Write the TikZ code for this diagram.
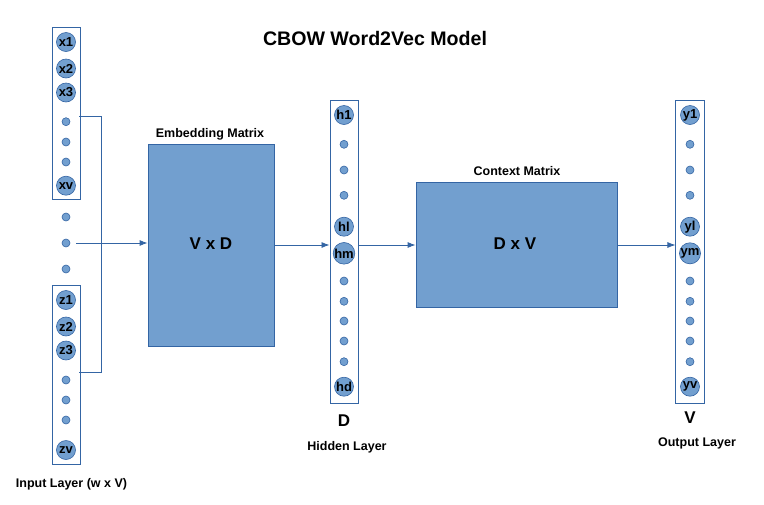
\documentclass[tikz,border=0pt]{standalone}
\usepackage{fontspec}
\setmainfont{Liberation Sans}
\usetikzlibrary{arrows.meta}
\definecolor{cfill}{HTML}{729FCF}
\definecolor{cline}{HTML}{3465A4}
\tikzset{
  big/.style={circle, fill=cfill, draw=cline, line width=0.6pt, minimum size=19pt, inner sep=0pt, font=\bfseries\fontsize{13}{13}\selectfont},
  dot/.style={circle, fill=cfill, draw=cline, line width=0.6pt, minimum size=8pt, inner sep=0pt},
  colbox/.style={draw=cline, fill=white, line width=0.8pt, minimum width=28.7pt, inner sep=0pt},
  mat/.style={draw=cline, fill=cfill, line width=0.8pt, inner sep=0pt},
  lbl/.style={font=\bfseries\fontsize{12.5}{13}\selectfont, inner sep=0pt},
  big lbl/.style={font=\bfseries\fontsize{17}{17}\selectfont, inner sep=0pt},
  conn/.style={draw=cline, line width=0.8pt},
  arr/.style={conn, -{Latex[length=8pt,width=6pt]}}
}
\begin{document}
\begin{tikzpicture}[x=1pt,y=-1pt]
\useasboundingbox (0,0) rectangle (764,504);
% title
\node[font=\bfseries\fontsize{19.6}{20}\selectfont, inner sep=0pt] (title) at (375,38) {CBOW Word2Vec Model};
% input boxes
\node[colbox, minimum height=171.7pt] (inA) at (66.4,113.2) {};
\node[colbox, minimum height=178.7pt] (inB) at (66.4,374.7) {};
\node[big] (x1) at (66,42) {x1};
\node[big] (x2) at (66,68.5) {x2};
\node[big] (x3) at (66,92.5) {x3};
\node[dot] (xa) at (66,121.7) {};
\node[dot] (xb) at (66,142) {};
\node[dot] (xc) at (66,162) {};
\node[big] (xv) at (66,185.7) {xv};
\node[dot] (ma) at (66,217) {};
\node[dot] (mb) at (66,243) {};
\node[dot] (mc) at (66,269) {};
\node[big] (z1) at (66,300) {z1};
\node[big] (z2) at (66,326.5) {z2};
\node[big] (z3) at (66,350.5) {z3};
\node[dot] (za) at (66,380) {};
\node[dot] (zb) at (66,400) {};
\node[dot] (zc) at (66,420) {};
\node[big] (zv) at (66,450) {zv};
\node[lbl] (inlbl) at (71.5,484) {Input Layer (w x V)};
% matrices
\node[mat, minimum width=126pt, minimum height=202pt] (emb) at (211,245) {};
\node[big lbl] (embt) at (211,244) {V x D};
\node[lbl] (emblbl) at (210,134) {Embedding Matrix};
\node[mat, minimum width=201pt, minimum height=125pt] (ctx) at (516.5,244.5) {};
\node[big lbl] (ctxt) at (515,244) {D x V};
\node[lbl] (ctxlbl) at (517,171) {Context Matrix};
% hidden layer
\node[colbox, minimum height=302.3pt] (hid) at (344.3,251.9) {};
\node[big] (h1) at (344,115) {h1};
\node[dot] (ha) at (344,144.3) {};
\node[dot] (hb) at (344,170) {};
\node[dot] (hc) at (344,195.3) {};
\node[big] (hl) at (344,226.7) {hl};
\node[big] (hm) at (344,253.3) {hm};
\node[dot] (hd1) at (344,281) {};
\node[dot] (hd2) at (344,301.3) {};
\node[dot] (hd3) at (344,321) {};
\node[dot] (hd4) at (344,341) {};
\node[dot] (hd5) at (344,361.7) {};
\node[big] (hd) at (344,386.7) {hd};
\node[big lbl] (D) at (344,421) {D};
\node[lbl] (hidlbl) at (347,447) {Hidden Layer};
% output layer
\node[colbox, minimum height=302.3pt] (out) at (690.2,251.9) {};
\node[big] (y1) at (690,115) {y1};
\node[dot] (ya) at (690,144.3) {};
\node[dot] (yb) at (690,170) {};
\node[dot] (yc) at (690,195.3) {};
\node[big] (yl) at (690,226.7) {yl};
\node[big] (ym) at (690,253.3) {ym};
\node[dot] (yd1) at (690,281) {};
\node[dot] (yd2) at (690,301.3) {};
\node[dot] (yd3) at (690,321) {};
\node[dot] (yd4) at (690,341) {};
\node[dot] (yd5) at (690,361.7) {};
\node[big] (yv) at (690,386.7) {yv};
\node[big lbl] (V) at (690,418) {V};
\node[lbl] (outlbl) at (697,443) {Output Layer};
% bracket
\coordinate (bA) at (79,116.7);
\coordinate (bB) at (79,372.7);
\draw[conn] (bA) -| (101,372.7) -- (bB);
% connectors
\coordinate (mstart) at (76,243);
\draw[arr] (mstart) -- (emb.west |- mstart);
\draw[arr] (emb.east |- 0,245) -- (hid.west |- 0,245);
\draw[arr] (hid.east |- 0,245) -- (ctx.west |- 0,245);
\draw[arr] (ctx.east |- 0,245) -- (out.west |- 0,245);
\end{tikzpicture}
\end{document}
